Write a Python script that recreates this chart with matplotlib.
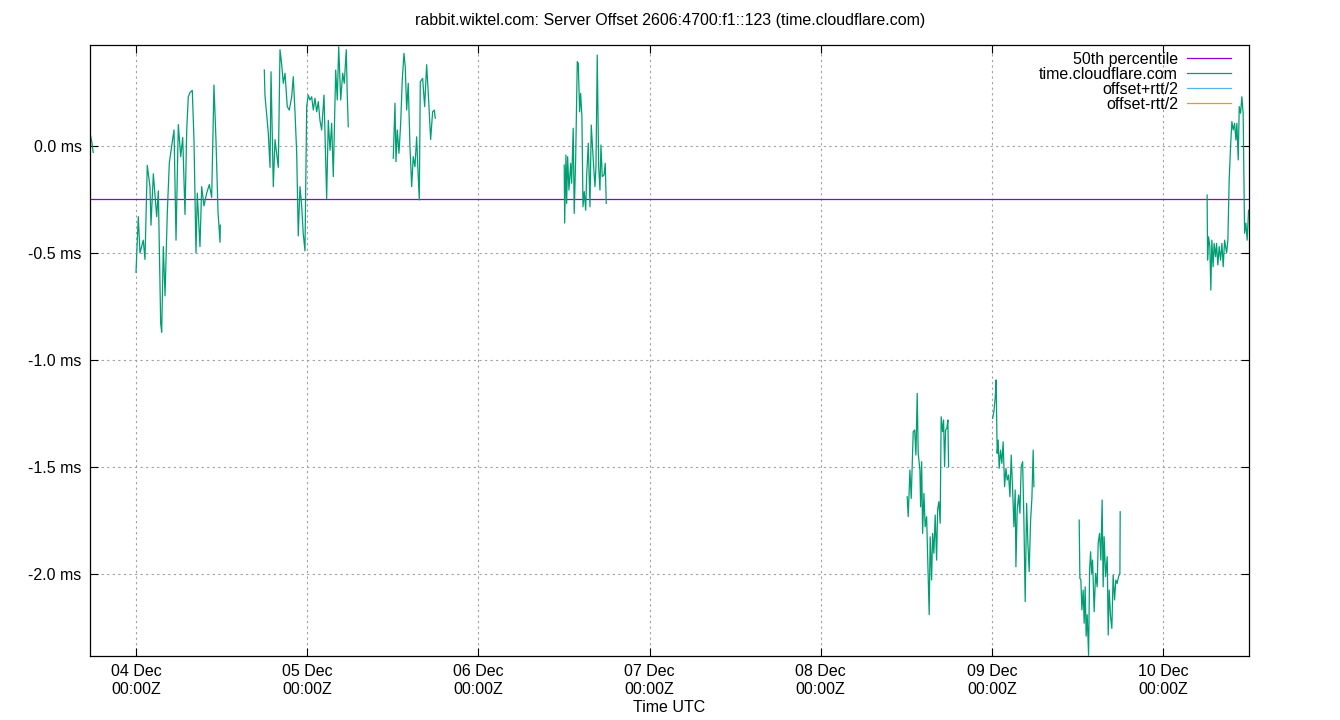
import matplotlib
matplotlib.use("Agg")
import matplotlib.pyplot as plt
import matplotlib.dates as mdates
import numpy as np
import pandas as pd

# hours since 04 Dec 00:00Z, offset in ms; each list is one contiguous run of samples
seg0_h = [-6.45, -6.2, -6.0]
seg0_v = [0.06, 0.02, -0.03]

segA_h = [0.0, 0.32, 0.56, 1.02, 1.26, 1.58, 1.96, 2.10, 2.43, 2.90,
          3.13, 3.46, 3.60, 3.83, 4.07, 4.39, 4.67, 5.00, 5.33, 5.61,
          5.93, 6.27, 6.55, 6.87, 7.11, 7.33, 7.57, 7.89, 8.13, 8.41,
          8.59, 8.97, 9.21, 9.53, 9.91, 10.28, 10.61, 10.93, 11.21, 11.50,
          11.78, 11.82]
segA_v = [-0.59, -0.33, -0.50, -0.44, -0.53, -0.09, -0.19, -0.37, -0.13, -0.33,
          -0.21, -0.83, -0.87, -0.47, -0.70, -0.31, -0.08, 0.00, 0.075, -0.44,
          0.10, -0.05, 0.04, -0.32, 0.075, 0.23, 0.25, 0.26, 0.03, -0.50,
          -0.22, -0.47, -0.19, -0.28, -0.22, -0.18, -0.24, 0.285, 0.03, -0.31,
          -0.45, -0.37]

segB_h = [17.99, 18.08, 18.55, 18.79, 18.93, 19.25, 19.49, 19.72, 19.95, 20.19,
          20.43, 20.65, 20.89, 21.21, 21.49, 21.83, 22.05, 22.29, 22.53, 22.75,
          22.99, 23.23, 23.45, 23.69, 23.93, 24.15, 24.39, 24.63, 24.86, 25.09,
          25.33, 25.56, 25.79, 26.03, 26.36, 26.73, 26.96, 27.20, 27.43, 27.66,
          28.00, 28.22, 28.42, 28.70, 28.98, 29.20, 29.48, 29.62, 29.76]
segB_v = [0.355, 0.238, 0.06, -0.10, 0.347, -0.19, 0.03, -0.034, -0.10, 0.45,
          0.38, 0.293, 0.34, 0.184, 0.168, 0.23, 0.324, 0.16, -0.034, -0.42,
          -0.19, -0.28, -0.41, -0.49, 0.184, 0.238, 0.215, 0.23, 0.168, 0.223,
          0.16, 0.207, 0.12, 0.075, 0.238, -0.245, 0.12, -0.02, 0.106, -0.143,
          0.355, 0.215, 0.464, 0.215, 0.34, 0.293, 0.45, 0.238, 0.09]

segC_h = [36.07, 36.31, 36.45, 36.63, 36.87, 37.11, 37.33, 37.57, 37.75, 37.95,
          38.17, 38.41, 38.65, 38.87, 39.11, 39.35, 39.53, 39.72, 39.86, 40.19,
          40.47, 40.75, 41.03, 41.31, 41.59, 41.82, 41.96]
segC_v = [-0.057, 0.20, -0.073, 0.075, -0.034, 0.106, 0.308, 0.433, 0.37, 0.168,
          0.293, 0.0, -0.19, -0.05, -0.097, 0.043, -0.112, -0.252, 0.30, 0.316,
          0.184, 0.38, 0.215, 0.03, 0.16, 0.168, 0.13]

segD_h = [60.04, 60.10, 60.28, 60.38, 60.52, 60.70, 60.94, 61.08, 61.30, 61.44,
          61.64, 61.87, 62.01, 62.20, 62.34, 62.52, 62.67, 62.85, 63.05, 63.19,
          63.41, 63.65, 63.83, 64.11, 64.35, 64.49, 64.67, 64.87, 65.05, 65.19,
          65.37, 65.61, 65.79, 65.93]
segD_v = [-0.089, -0.36, -0.042, -0.268, -0.05, -0.206, -0.081, -0.174, 0.083, -0.315,
          -0.065, 0.394, 0.386, 0.16, 0.246, 0.137, -0.284, -0.213, -0.30, -0.136,
          0.013, -0.284, 0.098, -0.065, -0.19, -0.097, 0.425, -0.097, -0.206, 0.005,
          -0.143, -0.136, -0.081, -0.268]

segE_h = [108.13, 108.27, 108.51, 108.69, 108.97, 109.17, 109.35, 109.53, 109.67, 109.91,
          110.01, 110.15, 110.29, 110.47, 110.65, 110.85, 111.03, 111.21, 111.35, 111.55,
          111.69, 111.87, 112.05, 112.25, 112.39, 112.57, 112.75, 112.89, 113.09, 113.23,
          113.37, 113.51, 113.69, 113.83, 113.93]
segE_v = [-1.639, -1.732, -1.514, -1.647, -1.335, -1.327, -1.444, -1.156, -1.436, -1.514,
          -1.686, -1.475, -1.81, -1.623, -1.779, -1.732, -1.966, -2.19, -1.826, -2.028,
          -1.81, -1.903, -1.724, -1.935, -1.70, -1.662, -1.763, -1.265, -1.335, -1.28,
          -1.499, -1.327, -1.319, -1.28, -1.499]

segF_h = [120.10, 120.28, 120.46, 120.60, 120.74, 120.88, 121.02, 121.22, 121.40, 121.58,
          121.78, 121.97, 122.15, 122.34, 122.53, 122.71, 122.91, 123.09, 123.27, 123.37,
          123.55, 123.75, 123.93, 124.11, 124.31, 124.49, 124.67, 124.87, 125.05, 125.23,
          125.43, 125.61, 125.79, 125.89]
segF_v = [-1.273, -1.241, -1.179, -1.093, -1.436, -1.374, -1.506, -1.421, -1.483, -1.382,
          -1.592, -1.506, -1.561, -1.537, -1.639, -1.444, -1.607, -1.779, -1.607, -1.966,
          -1.70, -1.631, -1.716, -1.499, -1.475, -1.748, -2.129, -1.67, -1.857, -1.989,
          -1.748, -1.647, -1.421, -1.592]

segG_h = [132.24, 132.34, 132.48, 132.62, 132.80, 132.94, 133.08, 133.22, 133.36, 133.56,
          133.70, 133.84, 133.98, 134.12, 134.34, 134.54, 134.76, 134.90, 135.10, 135.28,
          135.46, 135.60, 135.74, 135.94, 136.17, 136.31, 136.45, 136.64, 136.82, 137.00,
          137.20, 137.38, 137.56, 137.76, 137.95, 137.99]
segG_v = [-1.748, -2.02, -2.028, -2.168, -2.075, -2.23, -2.06, -2.29, -2.19, -2.38,
          -1.98, -1.896, -1.997, -1.935, -2.176, -1.997, -2.06, -1.857, -1.81, -1.935,
          -1.654, -2.06, -1.826, -2.012, -1.919, -2.285, -2.075, -2.2, -2.254, -2.005,
          -2.121, -2.028, -2.044, -2.012, -1.997, -1.709]

segH_h = [150.18, 150.24, 150.38, 150.56, 150.70, 150.84, 151.02, 151.16, 151.36, 151.50,
          151.68, 151.87, 152.06, 152.25, 152.43, 152.63, 152.91, 153.09, 153.27, 153.47,
          153.65, 153.84, 154.03, 154.21, 154.35, 154.54, 154.68, 154.87, 155.05, 155.23,
          155.43, 155.61, 155.79, 155.99]
segH_v = [-0.229, -0.533, -0.424, -0.47, -0.673, -0.44, -0.564, -0.455, -0.517, -0.455,
          -0.556, -0.47, -0.533, -0.455, -0.564, -0.44, -0.50, -0.44, -0.159, 0.0,
          0.114, 0.075, 0.106, 0.028, 0.106, -0.065, 0.184, 0.153, 0.23, 0.153,
          -0.408, -0.36, -0.44, -0.30]

median_ms = -0.248
x_range_h = [-6.45, 156.05]
y_ticks = [-2.0, -1.5, -1.0, -0.5, 0.0]
day_ticks = ['2023-12-04', '2023-12-05', '2023-12-06', '2023-12-07',
             '2023-12-08', '2023-12-09', '2023-12-10']

base = pd.Timestamp('2023-12-04 00:00')
segments = [(seg0_h, seg0_v), (segA_h, segA_v), (segB_h, segB_v), (segC_h, segC_v),
            (segD_h, segD_v), (segE_h, segE_v), (segF_h, segF_v), (segG_h, segG_v),
            (segH_h, segH_v)]
hrs, vals = [], []
for h, v in segments:
    hrs += h + [h[-1] + 0.01]
    vals += v + [np.nan]
times = base + pd.to_timedelta(hrs, unit='h')

plt.rcParams['font.family'] = ['Liberation Sans', 'DejaVu Sans']
fs = 11.5

fig = plt.figure(figsize=(13.4, 7.2), dpi=100)
ax = fig.add_axes([90 / 1340, 64 / 720, 1159 / 1340, 611 / 720])

xlim = base + pd.to_timedelta(x_range_h, unit='h')
ax.plot(xlim, [median_ms, median_ms], color='#9400d3', lw=0.9, label='50th percentile')
ax.plot(times, vals, color='#009e73', lw=0.9, label='time.cloudflare.com')
ax.plot([], [], color='#56b4e9', lw=0.9, label='offset+rtt/2')
ax.plot([], [], color='#e69f00', lw=0.9, label='offset-rtt/2')

ax.set_xlim(xlim[0], xlim[1])
ax.set_ylim(-2.383, 0.472)

ax.set_xticks(pd.to_datetime(day_ticks))
ax.xaxis.set_major_formatter(mdates.DateFormatter('%d %b\n%H:%MZ'))
ax.set_yticks(y_ticks)
ax.set_yticklabels([f'{t:.1f} ms' for t in y_ticks])

ax.grid(True, color='#a0a0a0', linestyle=(0, (2, 3)), lw=0.8)
ax.tick_params(direction='in', length=6, width=0.8, top=True, right=True,
               labelsize=fs, pad=6)
for s in ax.spines.values():
    s.set_linewidth(0.9)

ax.set_xlabel('Time UTC', fontsize=fs, labelpad=2.5)
fig.text(0.5, 1 - 21 / 720, 'rabbit.wiktel.com: Server Offset 2606:4700:f1::123 (time.cloudflare.com)',
         ha='center', va='center', fontsize=fs)

ax.legend(loc='upper right', bbox_to_anchor=(1.0 - 8 / 1159, 1.0 + 3 / 611), frameon=False,
          markerfirst=False, handlelength=2.75, labelspacing=0.0, handletextpad=0.6,
          borderaxespad=0.3, borderpad=0.3, fontsize=fs)

fig.savefig('out.png', dpi=100)
